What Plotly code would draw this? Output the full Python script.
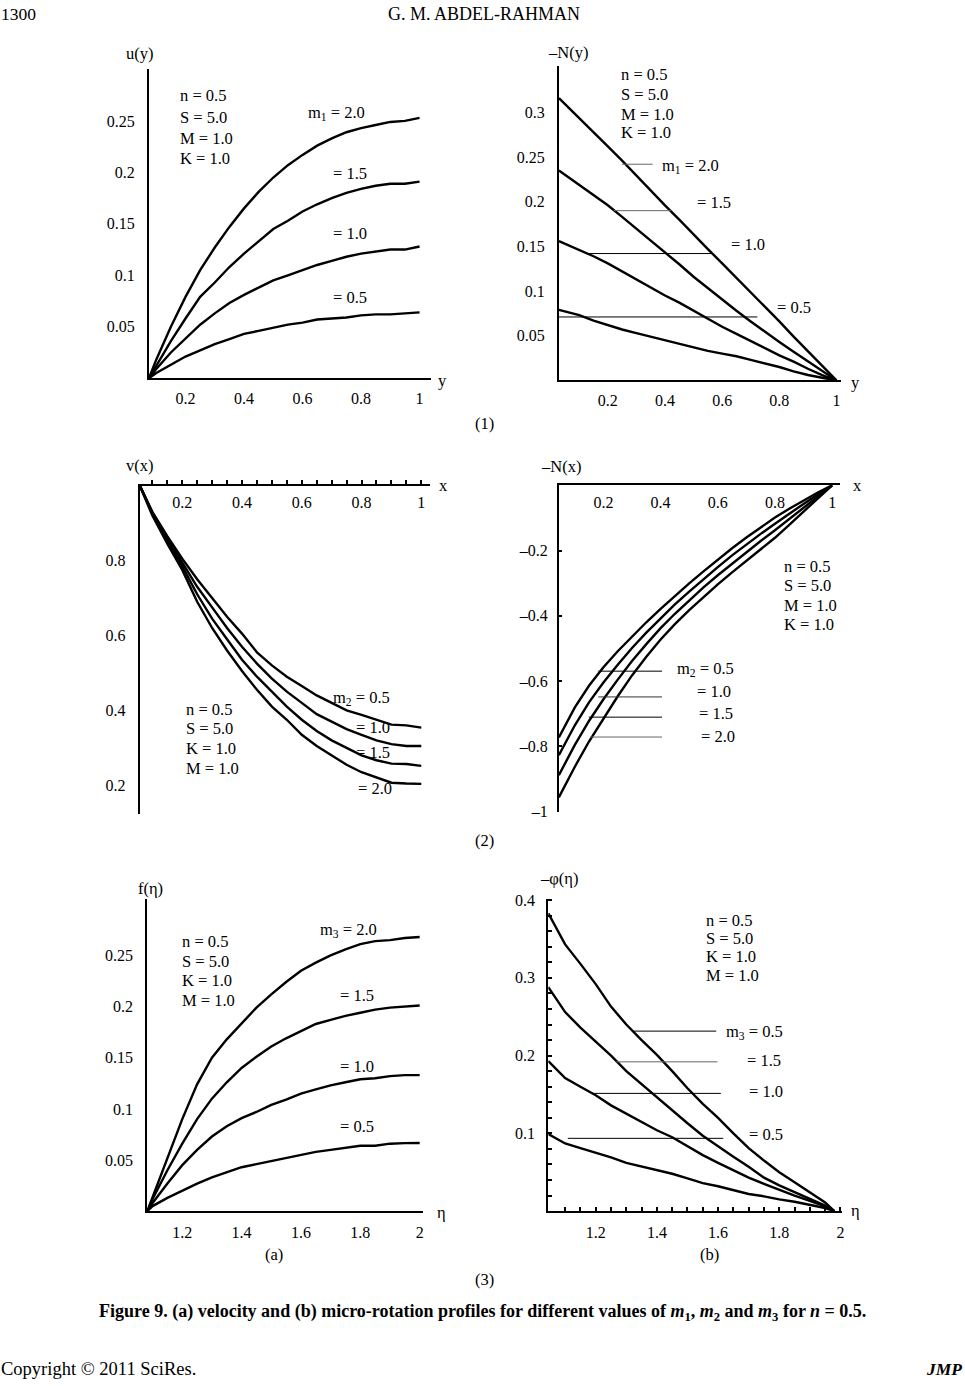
import plotly.graph_objects as go

W, H = 965, 1386
FONT = "Liberation Serif"
# the page shot comes back a little shrunk (measured on earlier runs), so pixel
# positions read off the reference are mapped through these before use
SX, SY, OY = 0.995, 0.99, 6.0

# ---- data ----
# (1) left: u(y)
u_y = [0.075, 0.1, 0.15, 0.2, 0.25, 0.3, 0.35, 0.4, 0.45, 0.5, 0.55, 0.6, 0.65, 0.7, 0.75, 0.8, 0.85, 0.9, 0.95, 1.0]
u_m1_20 = [0, 0.018, 0.050, 0.079, 0.105, 0.127, 0.147, 0.165, 0.181, 0.195, 0.207, 0.217, 0.226, 0.233, 0.239, 0.243, 0.246, 0.249, 0.250, 0.253]
u_m1_15 = [0, 0.012, 0.036, 0.058, 0.079, 0.093, 0.108, 0.121, 0.133, 0.145, 0.153, 0.162, 0.169, 0.175, 0.180, 0.184, 0.187, 0.189, 0.189, 0.191]
u_m1_10 = [0, 0.009, 0.025, 0.039, 0.052, 0.063, 0.073, 0.081, 0.088, 0.095, 0.100, 0.105, 0.110, 0.114, 0.118, 0.121, 0.123, 0.125, 0.125, 0.128]
u_m1_05 = [0, 0.005, 0.013, 0.021, 0.027, 0.033, 0.038, 0.043, 0.046, 0.049, 0.052, 0.054, 0.057, 0.058, 0.059, 0.061, 0.062, 0.062, 0.063, 0.064]

# (1) right: -N(y)
n_y = [0.029, 0.1, 0.15, 0.2, 0.25, 0.3, 0.35, 0.4, 0.45, 0.5, 0.55, 0.6, 0.65, 0.7, 0.75, 0.8, 0.85, 0.9, 0.95, 1.0]
n_m1_20 = [0.316, 0.294, 0.278, 0.262, 0.246, 0.229, 0.212, 0.196, 0.180, 0.163, 0.147, 0.131, 0.115, 0.098, 0.082, 0.066, 0.049, 0.033, 0.016, 0]
n_m1_15 = [0.235, 0.219, 0.208, 0.196, 0.183, 0.170, 0.156, 0.143, 0.130, 0.116, 0.103, 0.091, 0.078, 0.066, 0.054, 0.043, 0.032, 0.021, 0.010, 0]
n_m1_10 = [0.156, 0.146, 0.139, 0.131, 0.122, 0.113, 0.104, 0.095, 0.087, 0.078, 0.069, 0.060, 0.052, 0.044, 0.036, 0.028, 0.021, 0.013, 0.006, 0]
n_m1_05 = [0.079, 0.073, 0.067, 0.062, 0.057, 0.053, 0.049, 0.045, 0.041, 0.037, 0.033, 0.030, 0.027, 0.023, 0.019, 0.015, 0.010, 0.006, 0.003, 0]

# (2) left: v(x)
v_x = [0.058, 0.1, 0.15, 0.2, 0.25, 0.3, 0.35, 0.4, 0.45, 0.5, 0.55, 0.6, 0.65, 0.7, 0.75, 0.8, 0.85, 0.9, 0.95, 1.0]
v_m2_05 = [1.0, 0.93, 0.865, 0.805, 0.75, 0.70, 0.65, 0.605, 0.555, 0.52, 0.49, 0.465, 0.44, 0.42, 0.40, 0.388, 0.375, 0.362, 0.36, 0.354]
v_m2_10 = [1.0, 0.928, 0.86, 0.795, 0.73, 0.675, 0.62, 0.57, 0.525, 0.485, 0.45, 0.42, 0.39, 0.37, 0.35, 0.335, 0.32, 0.31, 0.305, 0.305]
v_m2_15 = [1.0, 0.925, 0.852, 0.785, 0.71, 0.645, 0.59, 0.535, 0.49, 0.45, 0.41, 0.375, 0.345, 0.32, 0.30, 0.28, 0.267, 0.258, 0.257, 0.252]
v_m2_20 = [1.0, 0.92, 0.845, 0.775, 0.69, 0.62, 0.56, 0.505, 0.455, 0.41, 0.375, 0.335, 0.305, 0.28, 0.255, 0.235, 0.22, 0.207, 0.205, 0.204]

# (2) right: -N(x)
nx_x = [0.044, 0.1, 0.15, 0.2, 0.25, 0.3, 0.35, 0.4, 0.45, 0.5, 0.55, 0.6, 0.65, 0.7, 0.75, 0.8, 0.85, 0.9, 0.95, 1.0]
nx_m2_05 = [-0.773, -0.681, -0.614, -0.558, -0.509, -0.463, -0.420, -0.379, -0.339, -0.301, -0.264, -0.228, -0.193, -0.160, -0.129, -0.099, -0.072, -0.046, -0.022, 0]
nx_m2_10 = [-0.828, -0.736, -0.665, -0.605, -0.550, -0.499, -0.452, -0.407, -0.365, -0.326, -0.287, -0.251, -0.215, -0.181, -0.149, -0.118, -0.087, -0.057, -0.028, 0]
nx_m2_15 = [-0.889, -0.796, -0.722, -0.656, -0.596, -0.539, -0.487, -0.438, -0.394, -0.353, -0.313, -0.276, -0.240, -0.205, -0.171, -0.138, -0.103, -0.068, -0.034, 0]
nx_m2_20 = [-0.957, -0.863, -0.785, -0.714, -0.647, -0.583, -0.526, -0.473, -0.426, -0.383, -0.342, -0.304, -0.267, -0.231, -0.196, -0.161, -0.121, -0.081, -0.041, 0]

# (3a): f(eta)
f_eta = [1.082, 1.1, 1.15, 1.2, 1.25, 1.3, 1.35, 1.4, 1.45, 1.5, 1.55, 1.6, 1.65, 1.7, 1.75, 1.8, 1.85, 1.9, 1.95, 2.0]
f_m3_20 = [0, 0.014, 0.052, 0.090, 0.124, 0.150, 0.168, 0.183, 0.199, 0.212, 0.224, 0.235, 0.243, 0.250, 0.256, 0.261, 0.264, 0.265, 0.267, 0.268]
f_m3_15 = [0, 0.012, 0.040, 0.066, 0.090, 0.110, 0.126, 0.140, 0.151, 0.161, 0.169, 0.176, 0.183, 0.187, 0.191, 0.194, 0.197, 0.199, 0.200, 0.201]
f_m3_10 = [0, 0.008, 0.027, 0.045, 0.060, 0.073, 0.083, 0.091, 0.097, 0.104, 0.109, 0.115, 0.119, 0.123, 0.126, 0.129, 0.130, 0.132, 0.133, 0.133]
f_m3_05 = [0, 0.005, 0.013, 0.020, 0.027, 0.033, 0.038, 0.043, 0.046, 0.049, 0.052, 0.055, 0.058, 0.060, 0.062, 0.064, 0.064, 0.066, 0.0665, 0.0667]

# (3b): -phi(eta)
p_eta = [1.045, 1.1, 1.15, 1.2, 1.25, 1.3, 1.35, 1.4, 1.45, 1.5, 1.55, 1.6, 1.65, 1.7, 1.75, 1.8, 1.85, 1.9, 1.95, 1.98]
p_top = [0.383, 0.343, 0.318, 0.292, 0.263, 0.240, 0.220, 0.201, 0.180, 0.158, 0.138, 0.120, 0.100, 0.081, 0.065, 0.050, 0.037, 0.024, 0.011, 0]
p_m3_15 = [0.288, 0.256, 0.236, 0.218, 0.200, 0.180, 0.163, 0.146, 0.130, 0.113, 0.097, 0.083, 0.070, 0.057, 0.043, 0.033, 0.024, 0.015, 0.007, 0]
p_m3_10 = [0.193, 0.171, 0.160, 0.149, 0.136, 0.125, 0.114, 0.104, 0.095, 0.083, 0.072, 0.062, 0.052, 0.043, 0.035, 0.027, 0.020, 0.013, 0.006, 0]
p_m3_05 = [0.099, 0.087, 0.081, 0.075, 0.069, 0.062, 0.057, 0.052, 0.048, 0.042, 0.036, 0.032, 0.027, 0.022, 0.019, 0.015, 0.012, 0.008, 0.004, 0]

# tick values / labels
t01 = [0.2, 0.4, 0.6, 0.8, 1.0]
t01_text = ["0.2", "0.4", "0.6", "0.8", "1"]
t005 = [0.05, 0.1, 0.15, 0.2, 0.25]
t005_text = ["0.05", "0.1", "0.15", "0.2", "0.25"]
t005b = [0.05, 0.1, 0.15, 0.2, 0.25, 0.3]
t005b_text = ["0.05", "0.1", "0.15", "0.2", "0.25", "0.3"]
tv = [0.2, 0.4, 0.6, 0.8]
tv_text = ["0.2", "0.4", "0.6", "0.8"]
tneg = [-0.2, -0.4, -0.6, -0.8, -1.0]
tneg_text = ["\u20130.2", "\u20130.4", "\u20130.6", "\u20130.8", "\u20131"]
teta = [1.2, 1.4, 1.6, 1.8, 2.0]
teta_text = ["1.2", "1.4", "1.6", "1.8", "2"]
tphi = [0.1, 0.2, 0.3, 0.4]
tphi_text = ["0.1", "0.2", "0.3", "0.4"]


def px_x(px):
    return min(max(px / SX / W, 0), 1)


def px_y(py):
    return min(max(1 - (py - OY) / SY / H, 0), 1)


def xdom(a, b):
    return [px_x(a), px_x(b)]


def ydom(bottom, top):
    return [px_y(bottom), px_y(top)]


def steps(start, stop, step):
    out = []
    k = 0
    while start + k * step <= stop + 1e-9:
        out.append(round(start + k * step, 4))
        k += 1
    return out


TICKFONT = dict(family=FONT, size=16, color="black")


def axis(rng, dom, vals, text, ticks="outside", tcolor="rgba(0,0,0,0)", tlen=8, minor_vals=None, **kw):
    d = dict(range=rng, domain=dom, tickmode="array", tickvals=vals, ticktext=text,
             showline=True, linecolor="black", linewidth=2, showgrid=False, zeroline=False,
             ticks=ticks, tickcolor=tcolor, ticklen=tlen, tickwidth=1.5, tickfont=TICKFONT)
    if minor_vals is not None:
        d["minor"] = dict(tickmode="array", tickvals=minor_vals, ticks=ticks, ticklen=tlen,
                          tickwidth=1.5, tickcolor=tcolor, showgrid=False)
    d.update(kw)
    return d


fig = go.Figure()

panels = [
    ("x", "y", u_y, [u_m1_20, u_m1_15, u_m1_10, u_m1_05]),
    ("x2", "y2", n_y, [n_m1_20, n_m1_15, n_m1_10, n_m1_05]),
    ("x3", "y3", v_x, [v_m2_05, v_m2_10, v_m2_15, v_m2_20]),
    ("x4", "y4", nx_x, [nx_m2_05, nx_m2_10, nx_m2_15, nx_m2_20]),
    ("x5", "y5", f_eta, [f_m3_20, f_m3_15, f_m3_10, f_m3_05]),
    ("x6", "y6", p_eta, [p_top, p_m3_15, p_m3_10, p_m3_05]),
]
for xa, ya, xs, curves in panels:
    for ys in curves:
        fig.add_trace(go.Scatter(x=xs, y=ys, mode="lines", xaxis=xa, yaxis=ya,
                                 line=dict(color="black", width=2.4), showlegend=False,
                                 hoverinfo="skip"))

layout = dict(
    width=W, height=H, margin=dict(l=0, r=0, t=0, b=0),
    paper_bgcolor="white", plot_bgcolor="white", showlegend=False,
    font=dict(family=FONT, size=16, color="black"),
    # (1)
    xaxis=axis([0.075, 1.04], xdom(148.5, 430), t01, t01_text, anchor="y", tlen=5),
    yaxis=axis([0, 0.3005], ydom(377.5, 68), t005, t005_text, anchor="x", tlen=9),
    xaxis2=axis([0.029, 1.016], xdom(557.3, 838.6), t01, t01_text, anchor="y2", tlen=4),
    yaxis2=axis([0, 0.352], ydom(379.7, 65), t005b, t005b_text, anchor="x2", tlen=9),
    # (2)
    xaxis3=axis([0.058, 1.028], xdom(139.4, 428.4), t01, t01_text, anchor="y3", side="top",
                tcolor="black", tlen=4, ticklabelposition="inside", ticklabelstandoff=11,
                minor_vals=steps(0.1, 1.0, 0.05)),
    yaxis3=axis([0.1245, 1.0], ydom(813.3, 485), tv, tv_text, anchor="x3", tlen=9),
    xaxis4=axis([0.044, 1.026], xdom(557.2, 837.1), t01, t01_text, anchor="y4", side="top",
                ticks="", ticklabelposition="inside", ticklabelstandoff=12),
    yaxis4=axis([-1.002, 0], ydom(811.7, 484.7), tneg, tneg_text, anchor="x4",
                ticks="inside", tcolor="black", tlen=3, ticklabelstandoff=6),
    # (3)
    xaxis5=axis([1.082, 2.011], xdom(146.8, 421.7), teta, teta_text, anchor="y5", tlen=6),
    yaxis5=axis([0, 0.3056], ydom(1211.2, 898.3), t005, t005_text, anchor="x5", tlen=9),
    xaxis6=axis([1.045, 2.005], xdom(546.7, 839.5), teta, teta_text, anchor="y6",
                ticks="inside", tcolor="black", tlen=4, ticklabelstandoff=6,
                minor_vals=steps(1.1, 1.95, 0.05)),
    yaxis6=axis([0, 0.402], ydom(1211.1, 898.3), tphi, tphi_text, anchor="x6",
                ticks="inside", tcolor="black", tlen=4, ticklabelstandoff=8,
                minor_vals=steps(0.02, 0.38, 0.02)),
)


def txt(px, py, s, anchor="left", size=16.5, yanchor="middle"):
    return dict(x=px_x(px), y=px_y(py), xref="paper", yref="paper", text=s,
                showarrow=False, xanchor=anchor, yanchor=yanchor,
                font=dict(family=FONT, size=size, color="black"))


def edge_txt(fx, fy, s, anchor="left", size=18):
    # placed in figure pixels: the header / footer sit right at the page edges
    return dict(x=fx / W, y=1 - fy / H, xref="paper", yref="paper", text=s, showarrow=False,
                xanchor=anchor, yanchor="middle", borderpad=0,
                font=dict(family=FONT, size=size, color="black"))


def block(px, rows, lines):
    return [txt(px, r, s) for r, s in zip(rows, lines)]


notes = []
# header / footer
notes.append(edge_txt(0, 7, "1300", size=17.5))
notes.append(edge_txt(485, 7, "G. M. ABDEL-RAHMAN", anchor="center", size=18))
notes.append(edge_txt(0, 1377, "Copyright \u00a9 2011 SciRes.", size=18.5))
notes.append(edge_txt(965, 1377, "<b><i>JMP</i></b>", anchor="right", size=17.5))
notes.append(txt(481, 1313, "<b>Figure 9. (a) velocity and (b) micro-rotation profiles for different values of "
                            "<i>m</i><sub>1</sub>, <i>m</i><sub>2</sub> and <i>m</i><sub>3</sub> for <i>n</i> = 0.5.</b>",
                 anchor="center", size=18))
notes += [txt(483, 423, "(1)", "center"), txt(483, 840, "(2)", "center"), txt(483, 1280, "(3)", "center"),
          txt(273, 1255, "(a)", "center"), txt(707, 1255, "(b)", "center")]

# (1) left
notes.append(txt(124, 53, "u(y)"))
notes.append(txt(441, 380, "y", "center"))
notes += block(177, [95, 117, 138, 158], ["n = 0.5", "S = 5.0", "M = 1.0", "K = 1.0"])
notes += [txt(305, 112, "m<sub>1</sub> = 2.0"), txt(330, 173, "= 1.5"), txt(330, 233, "= 1.0"),
          txt(330, 297, "= 0.5")]
# (1) right
notes.append(txt(544, 52, "\u2013N(y)"))
notes.append(txt(853, 382, "y", "center"))
notes += block(616.7, [73.3, 93.3, 113.3, 131.7], ["n = 0.5", "S = 5.0", "M = 1.0", "K = 1.0"])
notes += [txt(658, 165, "m<sub>1</sub> = 2.0"), txt(693, 201.7, "= 1.5"), txt(727, 244, "= 1.0"),
          txt(773, 307, "= 0.5")]
# (2) left
notes.append(txt(124, 465, "v(x)"))
notes.append(txt(442, 485, "x", "center"))
notes += block(183.3, [709.3, 728.3, 748.3, 768.3], ["n = 0.5", "S = 5.0", "K = 1.0", "M = 1.0"])
notes += [txt(330, 698, "m<sub>2</sub> = 0.5"), txt(353, 726.7, "= 1.0"), txt(353, 751.7, "= 1.5"),
          txt(355, 788, "= 2.0")]
# (2) right
notes.append(txt(537, 466, "\u2013N(x)"))
notes.append(txt(855, 485, "x", "center"))
notes += block(779.3, [566, 585, 605, 624], ["n = 0.5", "S = 5.0", "M = 1.0", "K = 1.0"])
notes += [txt(673, 669, "m<sub>2</sub> = 0.5"), txt(693, 690.7, "= 1.0"), txt(695, 713.3, "= 1.5"),
          txt(696.7, 736, "= 2.0")]
# (3a)
notes.append(txt(136, 888.3, "f(\u03b7)"))
notes.append(txt(440, 1213, "\u03b7", "center"))
notes += block(179, [941.7, 961.7, 980, 1000], ["n = 0.5", "S = 5.0", "K = 1.0", "M = 1.0"])
notes += [txt(316.7, 930, "m<sub>3</sub> = 2.0"), txt(336.7, 995, "= 1.5"), txt(336.7, 1066, "= 1.0"),
          txt(336.7, 1126, "= 0.5")]
# (3b)
notes.append(txt(536, 878.3, "\u2013\u03c6(\u03b7)"))
notes.append(txt(853, 1211, "\u03b7", "center"))
notes += block(701.7, [920, 938.3, 956.7, 975], ["n = 0.5", "S = 5.0", "K = 1.0", "M = 1.0"])
notes += [txt(721.7, 1032, "m<sub>3</sub> = 0.5"), txt(743, 1060, "= 1.5"), txt(745, 1091.7, "= 1.0"),
          txt(745, 1134.3, "= 0.5")]

layout["annotations"] = notes


def lead(ax, x0, x1, y, color="black"):
    return dict(type="line", xref="x" + ax, yref="y" + ax, x0=x0, x1=x1, y0=y, y1=y,
                line=dict(color=color, width=1))


layout["shapes"] = [
    lead("2", 0.249, 0.357, 0.242, "#666666"),
    lead("2", 0.220, 0.422, 0.190, "#666666"),
    lead("2", 0.126, 0.562, 0.142),
    lead("2", 0.029, 0.723, 0.071),
    lead("4", 0.182, 0.405, -0.570),
    lead("4", 0.182, 0.405, -0.649, "#333333"),
    lead("4", 0.149, 0.405, -0.711),
    lead("4", 0.153, 0.405, -0.772, "#666666"),
    lead("6", 1.322, 1.594, 0.2315),
    lead("6", 1.267, 1.598, 0.192, "#666666"),
    lead("6", 1.189, 1.609, 0.1514),
    lead("6", 1.109, 1.617, 0.0936),
]

fig.update_layout(**layout)
# the page body keeps a default 8px margin; drop it so the figure fills the window exactly
fig.write_html("out.html", config={"displayModeBar": False},
               post_script="document.body.style.margin='0';"
                           "document.documentElement.style.overflow='hidden';")
